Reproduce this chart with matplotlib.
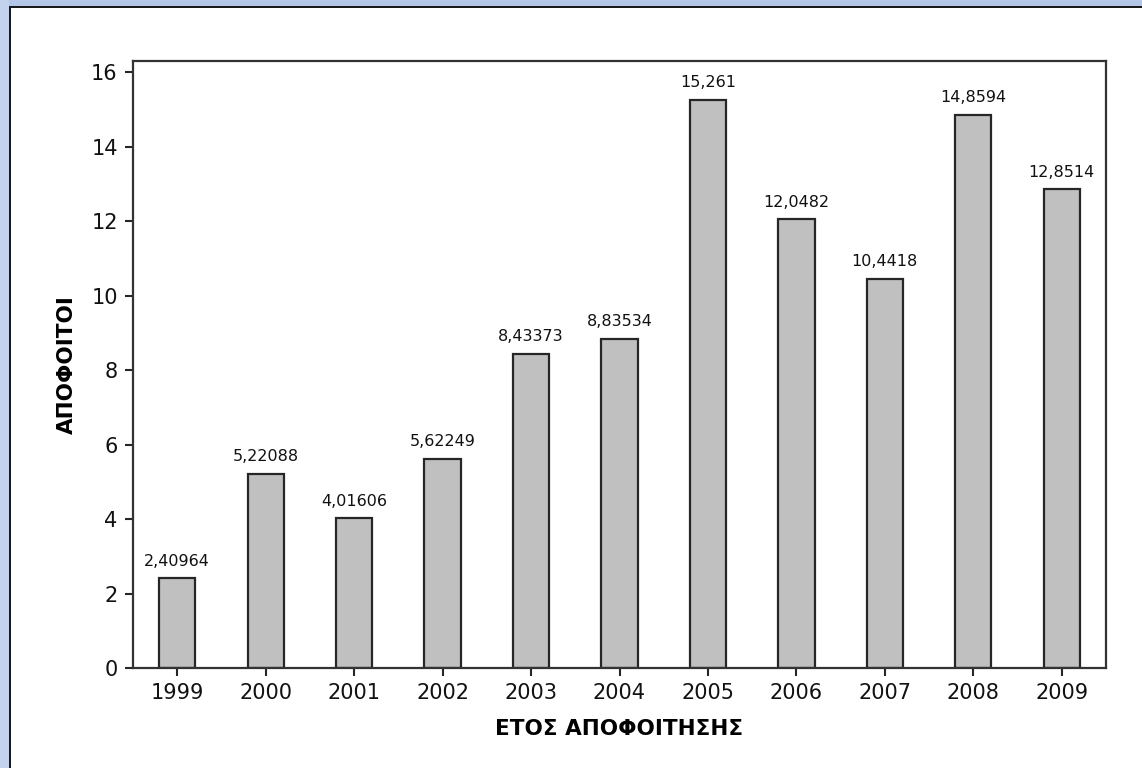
import matplotlib
matplotlib.use("Agg")
import matplotlib.pyplot as plt
from matplotlib.patches import Rectangle

years = ["1999", "2000", "2001", "2002", "2003", "2004",
         "2005", "2006", "2007", "2008", "2009"]
values = [2.40964, 5.22088, 4.01606, 5.62249, 8.43373, 8.83534,
          15.261, 12.0482, 10.4418, 14.8594, 12.8514]
y_ticks = [0, 2, 4, 6, 8, 10, 12, 14, 16]

W, H = 1142, 768
fig = plt.figure(figsize=(W / 100, H / 100), dpi=100)
fig.patch.set_facecolor("white")

# window frame: light blue band on top/left with dark inner edge
def px_rect(x, y, w, h, color):
    fig.add_artist(Rectangle((x / W, 1 - (y + h) / H), w / W, h / H,
                             transform=fig.transFigure, color=color, lw=0))

px_rect(0, 0, W, 6, "#b3c6e8")
px_rect(0, 0, 9, H, "#c3d3ee")
px_rect(9, 6, W - 9, 2, "#1a1a1a")
px_rect(9, 6, 2, H - 6, "#1a1a1a")

ax = fig.add_axes([133 / W, 1 - 668 / H, (1106 - 133) / W, (668 - 61) / H])
x = list(range(len(years)))
ax.bar(x, values, width=0.41, color="#c0c0c0",
       edgecolor="#262626", linewidth=1.6)

for xi, v in zip(x, values):
    ax.annotate(f"{v:g}".replace(".", ","), (xi, v), xytext=(0, 7),
                textcoords="offset points", ha="center", va="bottom",
                fontsize=11.5, color="#111111")

ax.set_xlim(-0.5, len(years) - 0.5)
ax.set_ylim(0, 16.3)
ax.set_xticks(x)
ax.set_xticklabels(years)
ax.set_yticks(y_ticks)
ax.tick_params(axis="both", direction="out", length=6, width=1.5,
               color="#262626", labelsize=15, pad=5, labelcolor="#111111")
for sp in ax.spines.values():
    sp.set_linewidth(1.6)
    sp.set_color("#333333")

ax.set_xlabel("ΕΤΟΣ ΑΠΟΦΟΙΤΗΣΗΣ", fontsize=15.5, fontweight="bold", labelpad=11)
ax.set_ylabel("ΑΠΟΦΟΙΤΟΙ", fontsize=15.5, fontweight="bold", labelpad=10)

fig.savefig("out.png", dpi=100)
